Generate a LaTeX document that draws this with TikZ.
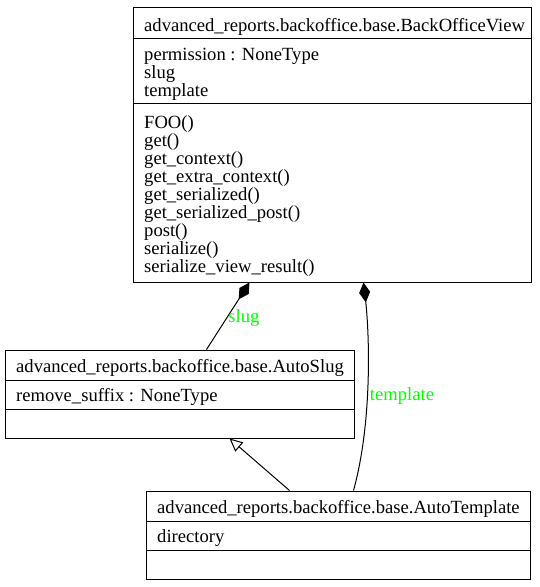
\documentclass[tikz,border=0pt]{standalone}
\usepackage{fontspec}
\setmainfont{Liberation Serif}
\usetikzlibrary{arrows.meta,calc}
\begin{document}
\begin{tikzpicture}[x=1pt,y=-1pt,
  box/.style={draw,line width=1pt,rectangle,inner sep=0pt},
  txt/.style={anchor=base west,inner sep=0pt,font=\fontsize{18.6}{18}\selectfont},
  lbl/.style={inner sep=0pt,text=labelgreen,font=\fontsize{18.6}{18}\selectfont},
  conn/.style={line width=1pt},
  comp/.style={-{Diamond[fill=black,length=20pt,width=11pt]}},
  inh/.style={-{Triangle[open,fill=white,length=13pt,width=12pt]}}]
\definecolor{labelgreen}{RGB}{0,255,0}
\useasboundingbox (0,0) rectangle (540,587);
% BackOfficeView
\node[box,minimum width=398pt,minimum height=275pt] (bov) at (332,144.5) {};
\draw[line width=1pt] (133,38) -- (531,38);
\draw[line width=1pt] (133,103) -- (531,103);
\node[txt] (bovt) at (144,31) {advanced\_reports.backoffice.base.BackOfficeView};
\foreach \t [count=\i] in {permission : NoneType,slug,template}
  \node[txt] (bova\i) at (144,{60+18*(\i-1)}) {\t};
\foreach \t [count=\i] in {FOO(),get(),get\_context(),get\_extra\_context(),get\_serialized(),get\_serialized\_post(),post(),serialize(),serialize\_view\_result()}
  \node[txt] (bovm\i) at (144,{128+18*(\i-1)}) {\t};
% AutoSlug
\node[box,minimum width=349pt,minimum height=88pt] (slug) at (179.5,394) {};
\draw[line width=1pt] (5,380) -- (354,380);
\draw[line width=1pt] (5,409) -- (354,409);
\node[txt] (slugt) at (16,372) {advanced\_reports.backoffice.base.AutoSlug};
\node[txt] (sluga1) at (16,401) {remove\_suffix : NoneType};
% AutoTemplate
\node[box,minimum width=384pt,minimum height=88pt] (tpl) at (338,535) {};
\draw[line width=1pt] (146,521) -- (530,521);
\draw[line width=1pt] (146,550) -- (530,550);
\node[txt] (tplt) at (157,513) {advanced\_reports.backoffice.base.AutoTemplate};
\node[txt] (tpla1) at (157,542) {directory};
% connectors
\draw[conn,comp] ($(slug.north west)+(202,0)$) -- ($(bov.south west)+(117,0)$);
\node[lbl] (lslug) at (244,318) {slug};
\draw[conn,comp] ($(tpl.north west)+(208,0)$) .. controls (373,420) and (369,330) .. ($(bov.south west)+(231,0)$);
\node[lbl] (ltpl) at (402,396) {template};
\draw[conn,inh] ($(tpl.north west)+(144,0)$) -- ($(slug.south west)+(225,0)$);
\end{tikzpicture}
\end{document}
